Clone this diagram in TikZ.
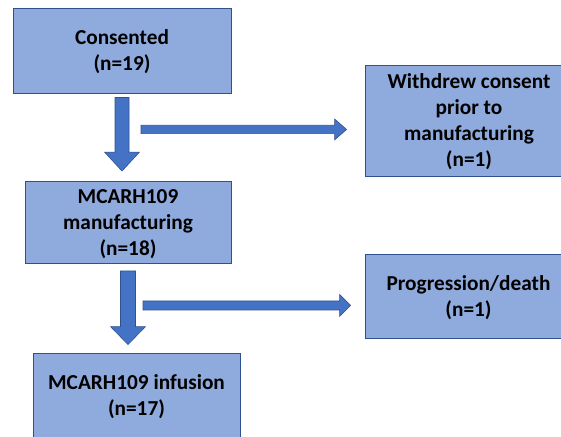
\documentclass[tikz,border=0pt]{standalone}
\usepackage{fontspec}
\setmainfont{Carlito}
\usetikzlibrary{calc}

\definecolor{boxfill}{HTML}{8FAADC}
\definecolor{boxedge}{HTML}{2F528F}
\definecolor{arrowfill}{HTML}{4472C4}

\tikzset{
  box/.style={draw=boxedge, fill=boxfill, line width=0.9pt, align=center,
    font=\fontsize{21.3}{26}\selectfont\bfseries, inner sep=0pt, text depth=-4pt},
  shaft/.store in=\shaftw, head/.store in=\headw, headlen/.store in=\headl,
  blockarrow/.style={draw=boxedge, fill=arrowfill, line width=0.6pt,
    to path={let \p1=(\tikztostart), \p2=(\tikztotarget),
      \n1={atan2(\y2-\y1,\x2-\x1)}, \n2={veclen(\x2-\x1,\y2-\y1)} in
      ($(\p1)+(\n1+90:\shaftw)$) -- ++(\n1:{\n2-\headl}) -- ++(\n1+90:{\headw-\shaftw})
      -- (\p2) -- ($(\p2)+(\n1+180:\headl)+(\n1-90:\headw)$) -- ++(\n1+90:{\headw-\shaftw})
      -- ($(\p1)+(\n1-90:\shaftw)$) -- cycle}}
}

\begin{document}
\begin{tikzpicture}[x=1pt, y=1pt]
  \useasboundingbox (0,0) rectangle (561,-436);

  \node[box, minimum width=218pt, minimum height=85pt] (consented) at (122,-50.5) {Consented\\(n=19)};
  \node[box, minimum width=208pt, minimum height=111pt] (withdrew) at (469,-120.5)
    {Withdrew consent\\prior to\\manufacturing\\(n=1)};
  \node[box, minimum width=206pt, minimum height=82pt] (manufacturing) at (128,-222.5)
    {MCARH109\\manufacturing\\(n=18)};
  \node[box, minimum width=207pt, minimum height=84pt] (progression) at (468.5,-296)
    {Progression/death\\(n=1)};
  \node[box, minimum width=207pt, minimum height=87pt, text depth={}] (infusion) at (136.5,-396.5)
    {MCARH109 infusion\\(n=17)};

  \coordinate (split1) at ($(consented.south)+(19,-36)$);
  \coordinate (split2) at ($(manufacturing.south)+(15,-41.5)$);

  \draw[blockarrow, shaft=7pt, head=17.5pt, headlen=19pt]
    ($(consented.south)+(0,-4)$) to ($(consented.south |- manufacturing.north)+(0,10)$);
  \draw[blockarrow, shaft=4.2pt, head=10.5pt, headlen=12pt]
    (split1) to ($(withdrew.west |- split1)+(-18,0)$);
  \draw[blockarrow, shaft=7.5pt, head=17.5pt, headlen=18pt]
    ($(manufacturing.south)+(0,-7)$) to ($(manufacturing.south |- infusion.north)+(0,8)$);
  \draw[blockarrow, shaft=4.5pt, head=11pt, headlen=11pt]
    (split2) to ($(progression.west |- split2)+(-14,0)$);
\end{tikzpicture}
\end{document}
